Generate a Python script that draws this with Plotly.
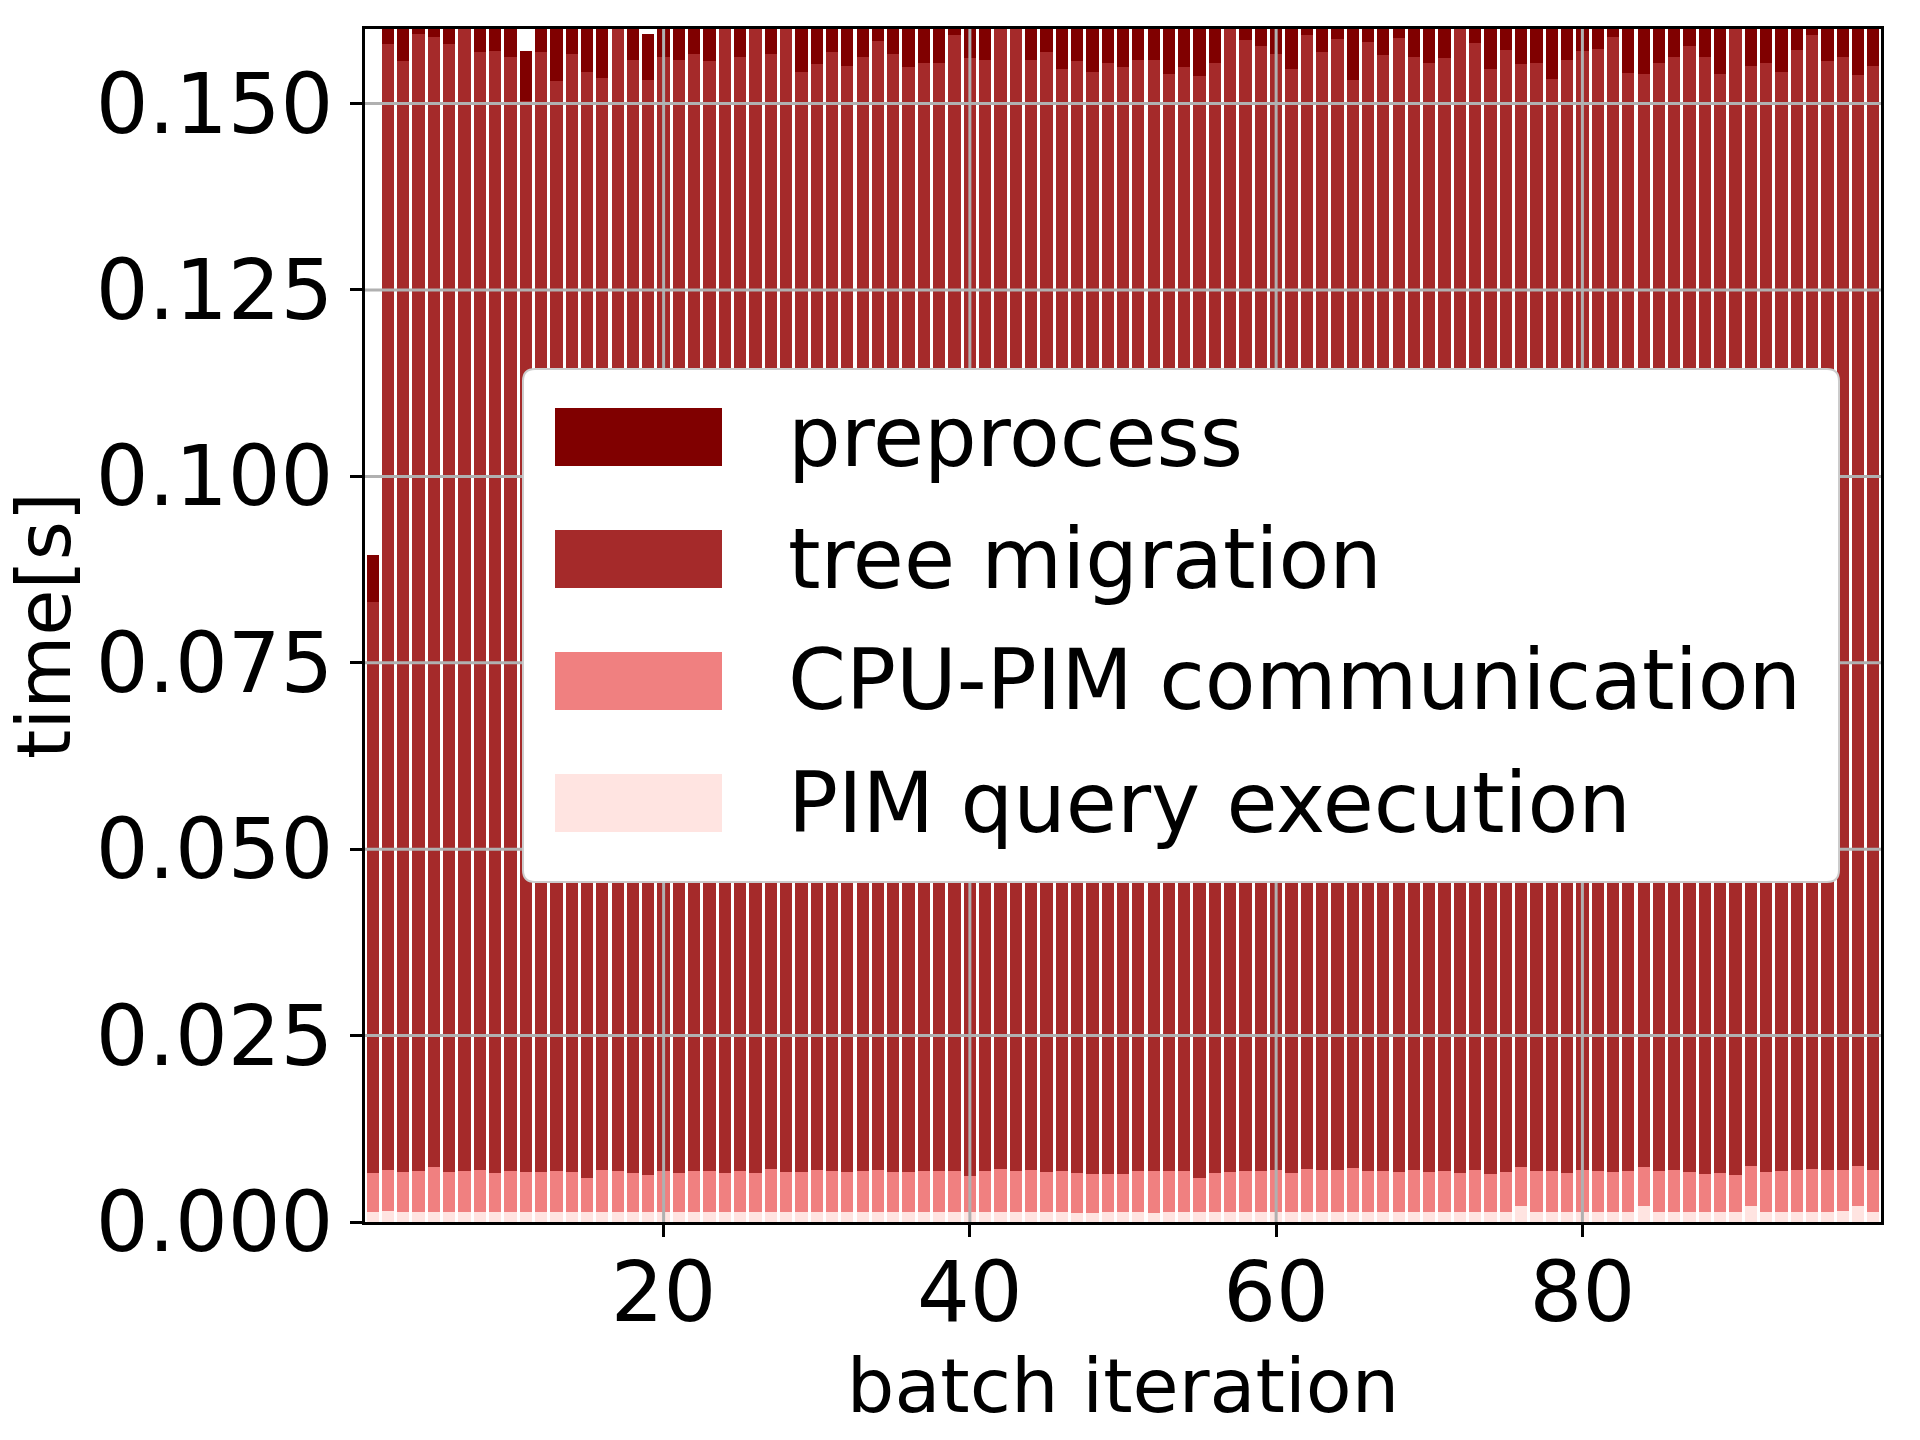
import plotly.graph_objects as go

# ---------------- data ----------------
iterations = list(range(1, 100))

pim_query_execution = [
    0.00134, 0.00147, 0.00134, 0.00134, 0.00134, 0.00134, 0.00134, 0.00134, 0.00134, 0.00134,
    0.00134, 0.00134, 0.00134, 0.00134, 0.00134, 0.00134, 0.00134, 0.00134, 0.00134, 0.00134,
    0.00134, 0.00134, 0.00134, 0.00134, 0.00134, 0.00134, 0.00134, 0.00134, 0.00134, 0.00134,
    0.00134, 0.00134, 0.00134, 0.00134, 0.00134, 0.00134, 0.00134, 0.00134, 0.00134, 0.00134,
    0.00134, 0.00134, 0.00134, 0.00134, 0.00134, 0.00134, 0.00121, 0.00121, 0.00134, 0.00134,
    0.00134, 0.00121, 0.00134, 0.00134, 0.00134, 0.00134, 0.00134, 0.00134, 0.00134, 0.00134,
    0.00134, 0.00134, 0.00134, 0.00134, 0.00134, 0.00134, 0.00134, 0.00134, 0.00134, 0.00134,
    0.00134, 0.00134, 0.00134, 0.00134, 0.00134, 0.00215, 0.00134, 0.00134, 0.00134, 0.00134,
    0.00134, 0.00134, 0.00134, 0.00215, 0.00134, 0.00134, 0.00134, 0.00134, 0.00134, 0.00134,
    0.00215, 0.00134, 0.00134, 0.00134, 0.00134, 0.00134, 0.00147, 0.00215, 0.00134,
]

cpu_pim_communication = [
    0.00523, 0.00550, 0.00536, 0.00550, 0.00603, 0.00536, 0.00550, 0.00563, 0.00523, 0.00550,
    0.00536, 0.00536, 0.00550, 0.00536, 0.00456, 0.00563, 0.00550, 0.00523, 0.00496, 0.00550,
    0.00523, 0.00550, 0.00550, 0.00523, 0.00550, 0.00523, 0.00577, 0.00536, 0.00536, 0.00563,
    0.00550, 0.00536, 0.00550, 0.00563, 0.00536, 0.00536, 0.00550, 0.00550, 0.00550, 0.00483,
    0.00550, 0.00577, 0.00550, 0.00563, 0.00536, 0.00550, 0.00536, 0.00523, 0.00510, 0.00510,
    0.00550, 0.00563, 0.00550, 0.00550, 0.00456, 0.00523, 0.00536, 0.00550, 0.00550, 0.00563,
    0.00523, 0.00577, 0.00563, 0.00563, 0.00590, 0.00550, 0.00550, 0.00536, 0.00563, 0.00536,
    0.00550, 0.00523, 0.00563, 0.00510, 0.00536, 0.00522, 0.00550, 0.00550, 0.00523, 0.00563,
    0.00550, 0.00536, 0.00550, 0.00522, 0.00550, 0.00563, 0.00536, 0.00510, 0.00523, 0.00496,
    0.00536, 0.00536, 0.00550, 0.00563, 0.00577, 0.00563, 0.00550, 0.00536, 0.00563,
]

tree_migration = [
    0.07653, 0.15103, 0.14900, 0.15246, 0.15153, 0.15130, 0.15466, 0.14993, 0.15043, 0.14936,
    0.14370, 0.15020, 0.14616, 0.15000, 0.14840, 0.14643, 0.15466, 0.14923, 0.14680, 0.14936,
    0.14933, 0.14986, 0.14886, 0.15493, 0.14946, 0.15493, 0.14959, 0.15480, 0.14750, 0.14833,
    0.15006, 0.14830, 0.14936, 0.15143, 0.14990, 0.14820, 0.14866, 0.14856, 0.15236, 0.14993,
    0.14896, 0.15439, 0.15466, 0.14893, 0.15020, 0.14776, 0.14913, 0.14776, 0.14906, 0.14846,
    0.14896, 0.14906, 0.14706, 0.14806, 0.14780, 0.14893, 0.15480, 0.15166, 0.15086, 0.14963,
    0.14803, 0.15209, 0.14993, 0.15163, 0.14586, 0.15136, 0.14966, 0.15210, 0.14933, 0.14880,
    0.14926, 0.15493, 0.15113, 0.14816, 0.15050, 0.14793, 0.14856, 0.14646, 0.14923, 0.15003,
    0.15046, 0.15220, 0.14726, 0.14653, 0.14866, 0.14933, 0.15100, 0.14986, 0.14733, 0.15520,
    0.14759, 0.14880, 0.14736, 0.15023, 0.15209, 0.14873, 0.14933, 0.14629, 0.14813,
]

preprocess = [
    0.0064, 0.0112, 0.0138, 0.0097, 0.0105, 0.0109, 0.0101, 0.0121, 0.0117, 0.0128,
    0.0066, 0.0119, 0.0146, 0.0124, 0.0135, 0.0141, 0.0099, 0.0127, 0.0062, 0.0126,
    0.0131, 0.0118, 0.0129, 0.0102, 0.0125, 0.0098, 0.0122, 0.0104, 0.0136, 0.0132,
    0.0116, 0.0133, 0.0124, 0.0108, 0.0120, 0.0137, 0.0129, 0.0130, 0.0096, 0.0127,
    0.0126, 0.0103, 0.0100, 0.0131, 0.0118, 0.0139, 0.0128, 0.0140, 0.0129, 0.0134,
    0.0127, 0.0125, 0.0143, 0.0133, 0.0145, 0.0130, 0.0101, 0.0106, 0.0115, 0.0121,
    0.0138, 0.0097, 0.0119, 0.0107, 0.0149, 0.0111, 0.0123, 0.0102, 0.0126, 0.0131,
    0.0124, 0.0099, 0.0109, 0.0138, 0.0116, 0.0133, 0.0131, 0.0147, 0.0127, 0.0118,
    0.0115, 0.0100, 0.0141, 0.0143, 0.0129, 0.0124, 0.0112, 0.0126, 0.0144, 0.0098,
    0.0135, 0.0130, 0.0142, 0.0114, 0.0097, 0.0128, 0.0124, 0.0146, 0.0134,
]

series_names = ["preprocess", "tree migration", "CPU-PIM communication", "PIM query execution"]
series_colors = ["#800000", "#A52A2A", "#F08080", "#FFE4E1"]

y_ticks = [0.0, 0.025, 0.05, 0.075, 0.1, 0.125, 0.15]
y_tick_labels = ["0.000", "0.025", "0.050", "0.075", "0.100", "0.125", "0.150"]
x_ticks = [20, 40, 60, 80]

# ---------------- figure ----------------
W, H = 1920, 1440
L, R, T, B = 365, 39, 29, 218
PW, PH = W - L - R, H - T - B
FONT = "DejaVu Sans"

fig = go.Figure()
stack = [
    (pim_query_execution, series_names[3], series_colors[3]),
    (cpu_pim_communication, series_names[2], series_colors[2]),
    (tree_migration, series_names[1], series_colors[1]),
    (preprocess, series_names[0], series_colors[0]),
]
for vals, name, col in stack:
    fig.add_trace(go.Bar(
        x=iterations, y=vals, name=name, width=0.8,
        marker=dict(color=col, line=dict(width=0)),
        showlegend=False,
    ))

def px_x(p):
    return (p - L) / PW

def px_y(p):
    return (H - B - p) / PH

shapes = []
# grid lines drawn over the bars
for xv in x_ticks:
    shapes.append(dict(type="line", xref="x", yref="paper", x0=xv, x1=xv, y0=0, y1=1,
                       line=dict(color="#b0b0b0", width=3), layer="above"))
for yv in y_ticks[1:]:
    shapes.append(dict(type="line", xref="paper", yref="y", x0=0, x1=1, y0=yv, y1=yv,
                       line=dict(color="#b0b0b0", width=3), layer="above"))

# legend box (rounded)
bx0, bx1, by0, by1 = 523, 1839, 369, 882
r = 12
x0, x1 = px_x(bx0), px_x(bx1)
yt, yb = px_y(by0), px_y(by1)
rx, ry = r / PW, r / PH
path = (f"M {x0+rx},{yt} L {x1-rx},{yt} Q {x1},{yt} {x1},{yt-ry} "
        f"L {x1},{yb+ry} Q {x1},{yb} {x1-rx},{yb} L {x0+rx},{yb} "
        f"Q {x0},{yb} {x0},{yb+ry} L {x0},{yt-ry} Q {x0},{yt} {x0+rx},{yt} Z")
shapes.append(dict(type="path", xref="paper", yref="paper", path=path,
                   fillcolor="white", line=dict(color="#cccccc", width=2), layer="above"))

annotations = []
patch_tops = [408, 530, 652, 774]
for i, (name, col) in enumerate(zip(series_names, series_colors)):
    top = patch_tops[i]
    bot = top + 58
    shapes.append(dict(type="rect", xref="paper", yref="paper",
                       x0=px_x(555), x1=px_x(722), y0=px_y(bot), y1=px_y(top),
                       fillcolor=col, line=dict(width=0), layer="above"))
    annotations.append(dict(xref="paper", yref="paper", x=px_x(786), y=px_y(top + 29),
                            text=name, showarrow=False, xanchor="left", yanchor="middle",
                            font=dict(family=FONT, size=83, color="black")))

fig.update_layout(
    width=W, height=H,
    margin=dict(l=L, r=R, t=T, b=B, pad=0),
    paper_bgcolor="white", plot_bgcolor="white",
    barmode="stack",
    bargap=0,
    font=dict(family=FONT, color="black", size=83),
    shapes=shapes,
    annotations=annotations,
    showlegend=False,
)
fig.update_xaxes(
    range=[0.5, 99.5], tickvals=x_ticks, ticktext=[str(v) for v in x_ticks],
    showgrid=False, zeroline=False,
    showline=True, linecolor="black", linewidth=3, mirror=True,
    ticks="outside", ticklen=12, tickwidth=3, tickcolor="black",
    ticklabelstandoff=-16,
    tickfont=dict(family=FONT, size=83, color="black"),
    title=dict(text="batch iteration", font=dict(family=FONT, size=75, color="black"), standoff=20),
)
fig.update_yaxes(
    range=[0, 0.16], tickvals=y_ticks, ticktext=y_tick_labels,
    showgrid=False, zeroline=False,
    showline=True, linecolor="black", linewidth=3, mirror=True,
    ticks="outside", ticklen=12, tickwidth=3, tickcolor="black",
    tickfont=dict(family=FONT, size=83, color="black"),
    title=dict(text="time[s]", font=dict(family=FONT, size=75, color="black"), standoff=11),
)

fig.write_html("out.html")
